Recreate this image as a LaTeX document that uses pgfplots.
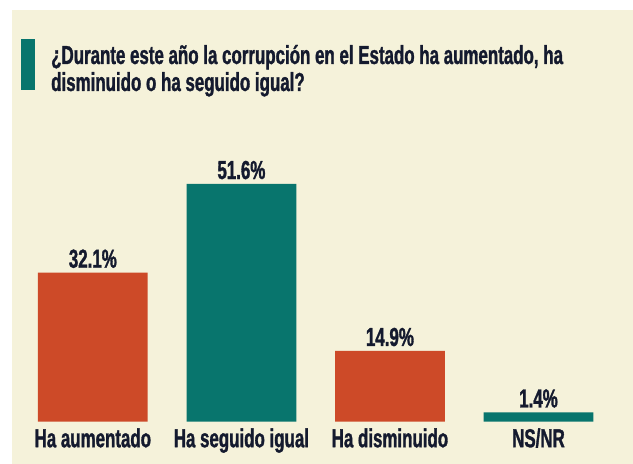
\documentclass[border=0pt]{standalone}
\usepackage{fontspec}
\setmainfont{Liberation Sans}[FakeStretch=0.65, BoldFeatures={FakeBold=1.2}]
\usepackage{pgfplots}
\pgfplotsset{compat=1.18}
\definecolor{bg}{RGB}{245,242,218}
\definecolor{orangebar}{RGB}{205,74,40}
\definecolor{tealbar}{RGB}{8,117,109}
\definecolor{ink}{RGB}{20,26,46}
\begin{document}
\begin{tikzpicture}[x=1bp,y=1bp]
\fill[white] (0,0) rectangle (633,464);
\fill[bg] (12,0) rectangle (633,454);
\fill[tealbar] (21,374) rectangle (35,425);
\node[anchor=base west, inner sep=0pt, text=ink, font=\fontsize{26bp}{28bp}\selectfont\bfseries] at (51,400) {¿Durante este año la corrupción en el Estado ha aumentado, ha};
\node[anchor=base west, inner sep=0pt, text=ink, font=\fontsize{26bp}{28bp}\selectfont\bfseries] at (51,373) {disminuido o ha seguido igual?};
\begin{axis}[
  at={(18.57bp,42.3bp)}, anchor=south west,
  scale only axis, width=594.2bp, height=272.94bp,
  xmin=-0.5, xmax=3.5, ymin=0, ymax=60,
  axis line style={draw=none}, major tick style={draw=none},
  ytick=\empty, xtick={0,1,2,3},
  xticklabels={Ha aumentado, Ha seguido igual, Ha disminuido, NS/NR},
  xticklabel style={anchor=base, inner sep=0pt, yshift=-21.3bp, text=ink, font=\fontsize{26bp}{28bp}\selectfont\bfseries},
  ybar, bar width=0.7385,
  y filter/.expression={y+0.66},
  point meta=rawy,
  nodes near coords={\pgfmathprintnumber[fixed,fixed zerofill,precision=1]{\pgfplotspointmeta}\%},
  every node near coord/.append style={anchor=south, inner sep=0pt, yshift=4.5bp, text=ink, font=\fontsize{26bp}{28bp}\selectfont\bfseries},
  /pgf/number format/assume math mode=true,
  clip=false,
]
\addplot[fill=orangebar, draw=none, bar shift=0pt] coordinates {(0,32.1) (2,14.9)};
\addplot[fill=tealbar, draw=none, bar shift=0pt] coordinates {(1,51.6) (3,1.4)};
\end{axis}
\end{tikzpicture}
\end{document}
